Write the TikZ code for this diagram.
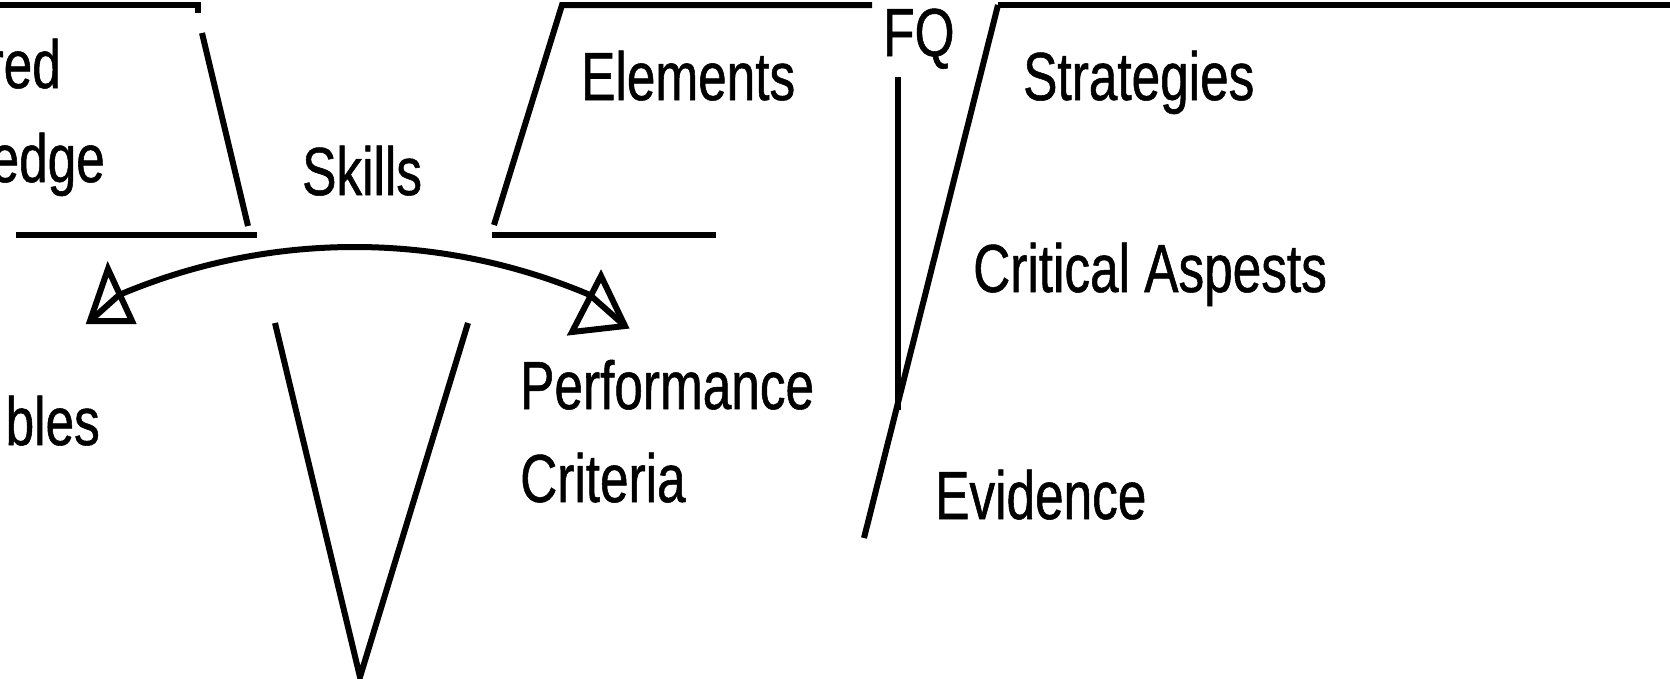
\documentclass[tikz,border=0pt]{standalone}
\usepackage{fontspec}
\setmainfont{Liberation Sans}[FakeStretch=0.755,FakeBold=0.8]
\begin{document}
\begin{tikzpicture}[x=1pt,y=-1pt,
  ln/.style={line width=6pt,black},
  lbl/.style={anchor=base west,inner sep=0pt,text=black,font=\fontsize{68}{80}\selectfont},
  lblr/.style={lbl,anchor=base east}]
\useasboundingbox (0,0) rectangle (1670,678);
% left trapezoid (cut off)
\draw[ln] (0,5) -- (198,5) -- (198,13);
\draw[ln] (202,33) -- (248,226);
\draw[ln] (16,235) -- (257,235);
% middle trapezoid
\draw[ln] (872,5) -- (562,5) -- (494,225);
\draw[ln] (492,235) -- (716,235);
% right part
\draw[ln] (998,5) -- (1670,5);
\draw[ln] (998,5) -- (864,538);
\draw[ln] (897.5,77) -- (897.5,410);
% V shape
\draw[ln] (275,323) -- (360,677) -- (468,323);
% arc with open arrowheads
\coordinate (arcL) at (119,295);
\coordinate (arcR) at (590,295);
\coordinate (tipL) at (90,321);
\coordinate (tipR) at (625,326);
\draw[ln] (tipL) -- (arcL) .. controls (269.7,231) and (439.3,231) .. (arcR) -- (tipR);
\draw[ln] (108,269) -- (tipL) -- (132,321) -- cycle;
\draw[ln] (601,276) -- (572,332) -- (tipR) -- cycle;
% labels
\node[lblr] (red) at (61,88) {red};
\node[lblr] (edge) at (105,182) {edge};
\node[lblr] (bles) at (100,445) {bles};
\node[lbl] (skills) at (302,195) {Skills};
\node[lbl] (elements) at (581,100) {Elements};
\node[lbl] (fq) at (883,56) {FQ};
\node[lbl] (strategies) at (1023,100) {Strategies};
\node[lbl] (critical) at (973,292) {Critical Aspests};
\node[lbl] (performance) at (520,409) {Performance};
\node[lbl] (criteria) at (520,502) {Criteria};
\node[lbl] (evidence) at (935,519) {Evidence};
\end{tikzpicture}
\end{document}
